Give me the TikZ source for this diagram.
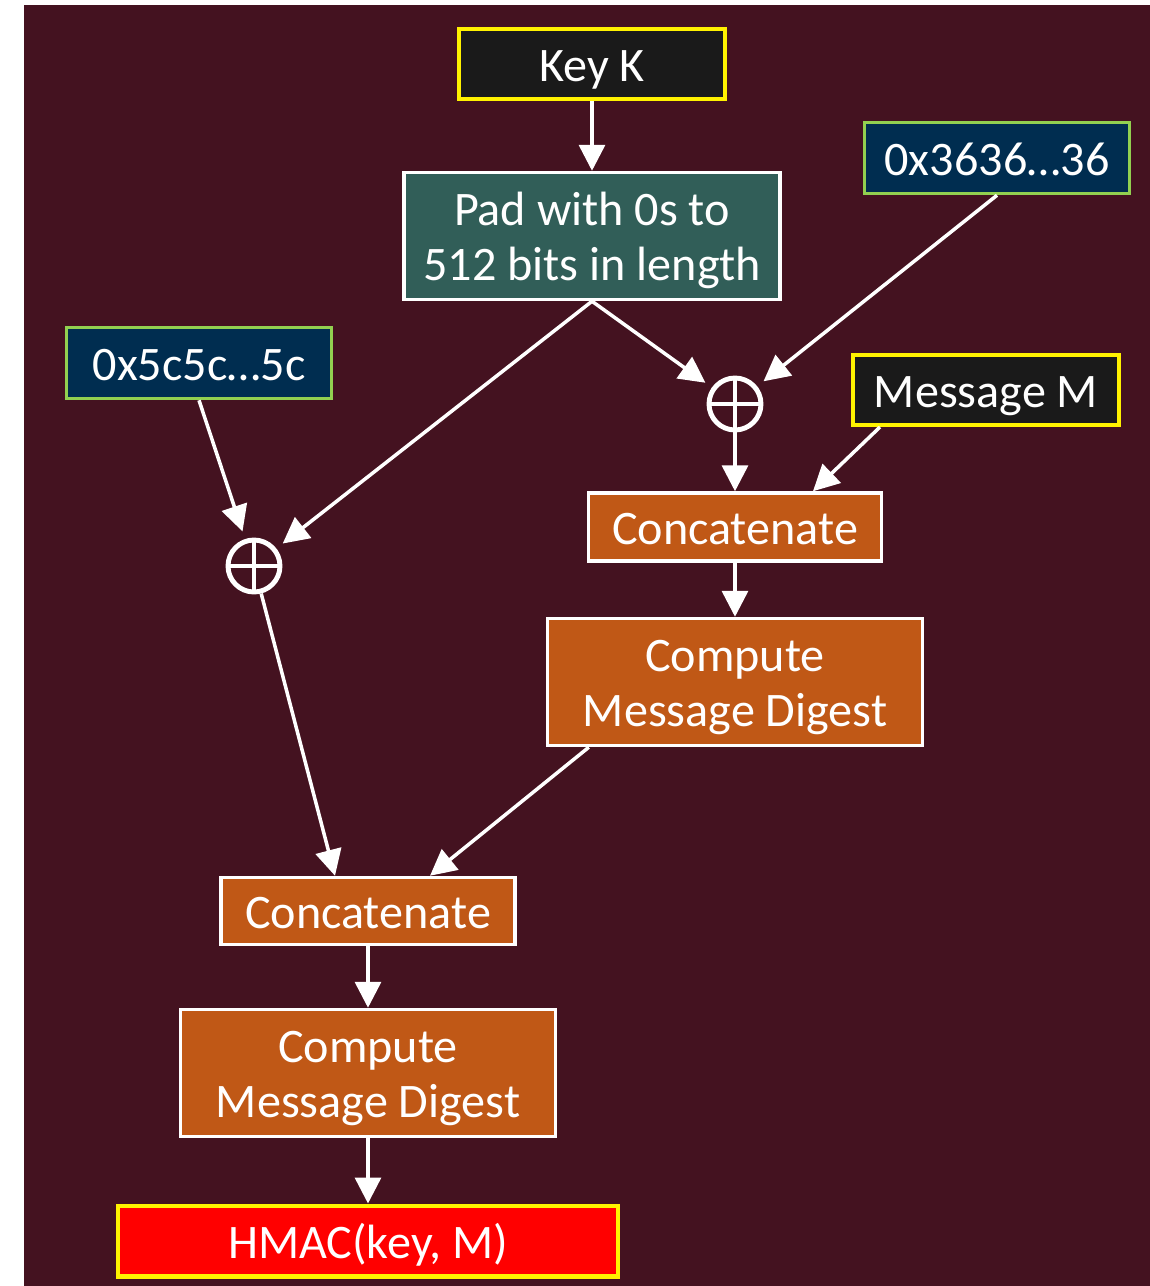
\documentclass[tikz,border=0pt]{standalone}
\usepackage{fontspec}
\setmainfont{Carlito}
\usetikzlibrary{arrows.meta,positioning,calc}
\definecolor{slideBg}{RGB}{68,18,32}
\definecolor{padTeal}{RGB}{49,94,88}
\definecolor{hexBlue}{RGB}{0,45,80}
\definecolor{hexGreen}{RGB}{146,208,80}
\definecolor{stepOrange}{RGB}{192,88,22}
\definecolor{keyBlack}{RGB}{26,26,26}
\tikzset{
  basebox/.style={rectangle, inner sep=0pt, text=white, line width=2pt,
    font=\fontsize{27.4}{31.3}\selectfont, align=center,
    text height=0.88cm, text depth=0.2cm},
  twoline/.style={text height=1.98cm, text depth=0.22cm},
  inbox/.style={basebox, draw=yellow, line width=2.3pt, fill=keyBlack, minimum width=5.32cm, minimum height=1.4cm},
  hexbox/.style={basebox, draw=hexGreen, fill=hexBlue, minimum width=5.3cm, minimum height=1.42cm},
  stepbox/.style={basebox, draw=white, fill=stepOrange},
  xorsym/.style={circle, draw=white, line width=2.8pt, minimum size=1.04cm, inner sep=0pt,
    path picture={\draw[white, line width=2.2pt]
      (path picture bounding box.north) -- (path picture bounding box.south)
      (path picture bounding box.west) -- (path picture bounding box.east);}},
  flowln/.style={-{Triangle[length=0.52cm,width=0.52cm]}, line width=2pt, white},
}

\begin{document}
\begin{tikzpicture}[x=0.02cm, y=-0.02cm]
    \useasboundingbox (0,0) rectangle (1150,1286);
    \fill[slideBg] (24,5) rectangle (1150,1286);
    % inputs
    \node[inbox] (key) at (592,64) {Key K};
    \node[basebox, twoline, draw=white, fill=padTeal, minimum width=7.52cm, minimum height=2.54cm]
      (pad) at (592,236) {Pad with 0s to\\512 bits in length};
    \node[hexbox] (hexin) at (997,158) {0x3636…36};
    \node[hexbox] (hexout) at (199,363) {0x5c5c…5c};
    \node[inbox] (msg) at (986,390) {Message M};
    % inner hash
    \node[xorsym] (xorin) at (735,404) {};
    \node[stepbox, minimum width=5.87cm, minimum height=1.36cm] (catin) at (735,527) {Concatenate};
    \node[stepbox, twoline, minimum width=7.5cm, minimum height=2.54cm] (hashin) at (735,682) {Compute\\Message Digest};
    % outer hash
    \node[xorsym] (xorout) at (254,566) {};
    \node[stepbox, minimum width=5.88cm, minimum height=1.34cm] (catout) at (368,911) {Concatenate};
    \node[stepbox, twoline, minimum width=7.5cm, minimum height=2.54cm] (hashout) at (368,1073) {Compute\\Message Digest};
    \node[basebox, draw=yellow, line width=2.3pt, fill=red, minimum width=10.02cm, minimum height=1.42cm]
      (hmac) at (368,1241) {HMAC(key, M)};
    % connectors
    \draw[flowln] (key) -- (pad);
    \draw[flowln, shorten >=0.16cm] (pad.south) -- (xorin);
    \draw[flowln, shorten >=0.16cm] (pad.south) -- (xorout);
    \draw[flowln, shorten >=0.16cm] (hexin.south) -- (xorin);
    \draw[flowln, shorten >=0.16cm] (hexout.south) -- (xorout);
    \draw[flowln] (xorin) -- (catin);
    \draw[flowln] ([xshift=0.58cm]msg.south west) -- ([xshift=1.56cm]catin.north);
    \draw[flowln] (catin) -- (hashin);
    \draw[flowln] ([xshift=0.86cm]hashin.south west) -- ([xshift=1.24cm]catout.north);
    \draw[flowln] (xorout) -- ([xshift=-0.66cm]catout.north);
    \draw[flowln] (catout) -- (hashout);
    \draw[flowln] (hashout) -- (hmac);
  \end{tikzpicture}
\end{document}
